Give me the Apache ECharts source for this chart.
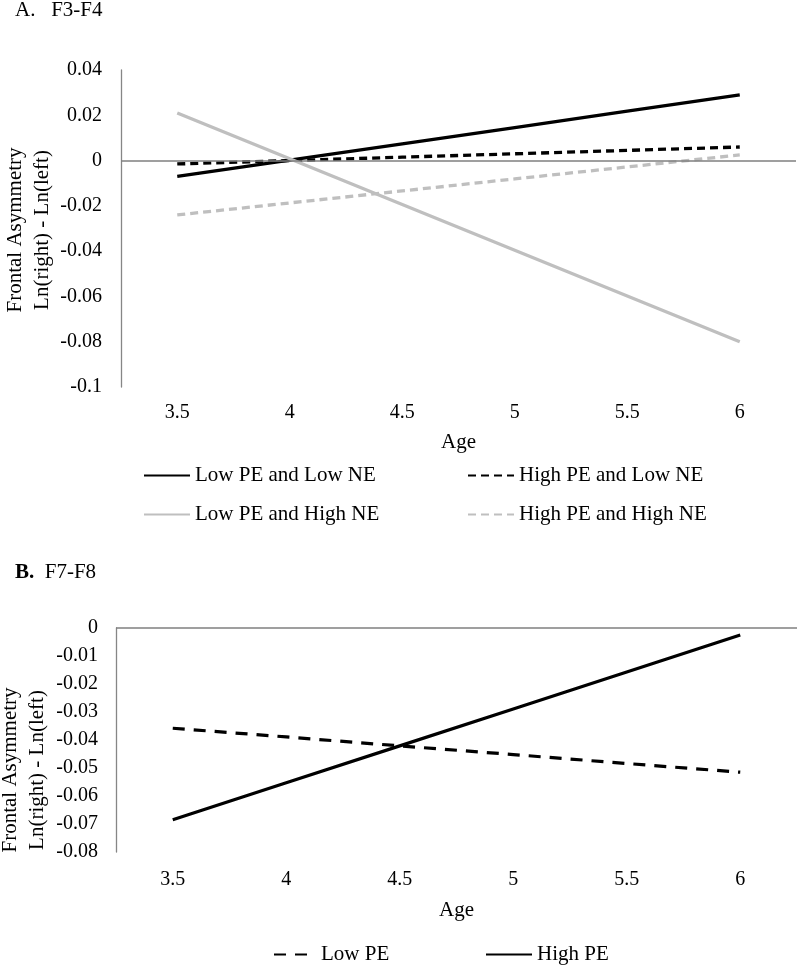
<!DOCTYPE html>
<html>
<head>
<meta charset="utf-8">
<script src="https://cdn.jsdelivr.net/npm/echarts@6/dist/echarts.min.js"></script>
<style>
html,body{margin:0;padding:0;background:#fff;}
#chart{width:800px;height:968px;}
</style>
</head>
<body>
<div id="chart"></div>
<script>
// ---- data ----
const categories = ['3.5', '4', '4.5', '5', '5.5', '6'];
// Panel A: F3-F4
const lowPELowNE   = [-0.0070, 0.0002, 0.0074, 0.0146, 0.0218, 0.0290];
const highPELowNE  = [-0.0015, 0.0000, 0.0015, 0.0030, 0.0045, 0.0060];
const lowPEHighNE  = [ 0.0210, 0.0008, -0.0194, -0.0396, -0.0598, -0.0800];
const highPEHighNE = [-0.0240, -0.0187, -0.0134, -0.0081, -0.0028, 0.0025];
// Panel B: F7-F8
const lowPE  = [-0.0358, -0.0389, -0.0421, -0.0452, -0.0484, -0.0515];
const highPE = [-0.0685, -0.0553, -0.0421, -0.0289, -0.0157, -0.0025];
// tick labels
const yTicksA = [-0.1, -0.08, -0.06, -0.04, -0.02, 0, 0.02, 0.04];
const yTicksB = [-0.08, -0.07, -0.06, -0.05, -0.04, -0.03, -0.02, -0.01, 0];

const FONT = 'Liberation Serif';
const GRAY = '#BFBFBF';
const AXIS = '#868686';

const chart = echarts.init(document.getElementById('chart'), null, {renderer: 'canvas'});

function fmt(v) { return String(+v.toFixed(2)); }

function yAxisCfg(gridIndex, ticks, margin) {
  return {
    type: 'value', gridIndex: gridIndex,
    min: ticks[0], max: ticks[ticks.length - 1],
    interval: +(ticks[1] - ticks[0]).toFixed(4),
    axisLine: {show: true, lineStyle: {color: AXIS, width: 1.3}},
    axisTick: {show: false},
    splitLine: {show: false},
    axisLabel: {color: '#000', fontFamily: FONT, fontSize: 20, margin: margin, formatter: fmt}
  };
}
function xAxisCfg(gridIndex, margin, nameGap) {
  return {
    type: 'category', gridIndex: gridIndex, data: categories, boundaryGap: true,
    position: 'bottom',
    axisLine: {show: false, onZero: false},
    axisTick: {show: false},
    axisLabel: {color: '#000', fontFamily: FONT, fontSize: 20, margin: margin, interval: 0},
    name: 'Age', nameLocation: 'middle', nameGap: nameGap,
    nameTextStyle: {color: '#000', fontFamily: FONT, fontSize: 21}
  };
}
function zeroLine() {
  return {silent: true, symbol: 'none', label: {show: false},
    lineStyle: {color: '#7f7f7f', width: 1.5, type: 'solid'},
    data: [{yAxis: 0}]};
}
function lineSeries(name, data, color, dashed, xi, width) {
  return {
    name: name, type: 'line', xAxisIndex: xi, yAxisIndex: xi, data: data,
    symbol: 'none', showSymbol: false, animation: false,
    lineStyle: {color: color, width: width, type: dashed ? dashed : 'solid', cap: 'butt'},
    itemStyle: {color: color}
  };
}
function legendCfg(name, left, top, w) {
  return {
    data: [name], left: left, top: top, padding: 0, itemGap: 0,
    itemWidth: w, itemHeight: 2, selectedMode: false,
    itemStyle: {opacity: 0, borderWidth: 0},
    textStyle: {color: '#000', fontFamily: FONT, fontSize: 21}
  };
}

const sA = lineSeries('Low PE and Low NE', lowPELowNE, '#000', null, 0, 3.3);
sA.markLine = zeroLine();

const option = {
  animation: false,
  backgroundColor: '#fff',
  title: [
    {text: 'A.   F3-F4', left: 15, top: 0, padding: 0,
     textStyle: {color: '#000', fontFamily: FONT, fontSize: 21, fontWeight: 'normal'}},
    {text: '{b|B.}  F7-F8', left: 15, top: 562, padding: 0,
     textStyle: {color: '#000', fontFamily: FONT, fontSize: 21, fontWeight: 'normal',
       rich: {b: {fontFamily: FONT, fontSize: 21, fontWeight: 'bold', color: '#000'}}}}
  ],
  grid: [
    {left: 121, right: 4, top: 70, bottom: 581, containLabel: false},
    {left: 116, right: 3, top: 628, bottom: 116, containLabel: false}
  ],
  xAxis: [xAxisCfg(0, 16, 45), xAxisCfg(1, 18, 48)],
  yAxis: [yAxisCfg(0, yTicksA, 19), yAxisCfg(1, yTicksB, 18)],
  legend: [
    legendCfg('Low PE and Low NE', 143, 465, 46),
    legendCfg('High PE and Low NE', 467, 465, 46),
    legendCfg('Low PE and High NE', 143, 504, 46),
    legendCfg('High PE and High NE', 467, 504, 46),
    legendCfg('Low PE', 273, 944, 42),
    legendCfg('High PE', 485, 944, 46)
  ],
  graphic: [
    {type: 'text', x: 29, y: 230, rotation: Math.PI / 2,
     style: {text: 'Frontal Asymmetry\nLn(right) - Ln(left)', fill: '#000',
       font: '21px "Liberation Serif"', align: 'center', verticalAlign: 'middle', lineHeight: 27}},
    {type: 'text', x: 24, y: 770, rotation: Math.PI / 2,
     style: {text: 'Frontal Asymmetry\nLn(right) - Ln(left)', fill: '#000',
       font: '21px "Liberation Serif"', align: 'center', verticalAlign: 'middle', lineHeight: 27}}
  ],
  series: [
    sA,
    lineSeries('High PE and Low NE', highPELowNE, '#000', [8, 5], 0, 3.3),
    lineSeries('Low PE and High NE', lowPEHighNE, GRAY, null, 0, 3.3),
    lineSeries('High PE and High NE', highPEHighNE, GRAY, [8, 5], 0, 3.3),
    Object.assign(lineSeries('Low PE', lowPE, '#000', [12, 9], 1, 3.2), {markLine: zeroLine()}),
    lineSeries('High PE', highPE, '#000', null, 1, 3.2)
  ]
};
chart.setOption(option);
</script>
</body>
</html>
